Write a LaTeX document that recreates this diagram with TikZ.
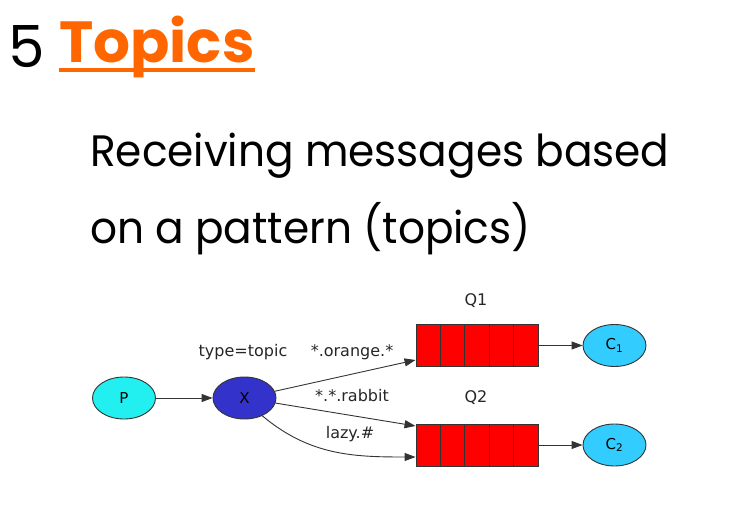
\documentclass[tikz,border=0pt]{standalone}
\usepackage{fontspec}
\setmainfont{Poppins}
\newfontfamily\bodyfont[FakeStretch=0.96]{Poppins}
\newfontfamily\dotfont{DejaVu Sans}
\usepackage{xcolor}
\definecolor{topicorange}{HTML}{FF6600}
\definecolor{prodcyan}{HTML}{22F0F0}
\definecolor{exchblue}{HTML}{3333CC}
\definecolor{consblue}{HTML}{33CCFF}
\definecolor{queuered}{HTML}{FF0000}
\definecolor{edgeink}{HTML}{333333}
\usetikzlibrary{calc,arrows.meta,positioning,shapes.geometric}

\begin{document}
\begin{tikzpicture}[x=1pt, y=-1pt, >={Triangle[length=11pt,width=8pt]},
	blob/.style={ellipse, draw=edgeink, line width=0.9pt, minimum width=63pt, minimum height=42pt, inner sep=0pt, font=\dotfont\fontsize{15}{15}\selectfont},
	queuebox/.style={rectangle, draw=edgeink, fill=queuered, line width=0.9pt, minimum width=122pt, minimum height=42pt, inner sep=0pt},
	link/.style={->, edgeink, line width=0.9pt},
	tag/.style={font=\dotfont\fontsize{16}{16}\selectfont, text=black!85, inner sep=0pt}]

	\useasboundingbox (0,0) rectangle (748,511);

	% ================= Title =================
	\node[anchor=base west, inner sep=0pt, font=\fontsize{58}{58}\selectfont] (num) at (8,68) {5};
	\node[anchor=base west, inner sep=0pt, text=topicorange, font=\bfseries\fontsize{58}{58}\selectfont] (title) at (59,63) {Topics};
	\draw[topicorange, line width=4.5pt] ([yshift=-7pt]title.base west) -- ([yshift=-7pt]title.base east);

	\node[anchor=base west, inner sep=0pt, font=\bodyfont\fontsize{44}{44}\selectfont] (line1) at (90,167) {Receiving messages based};
	\node[anchor=base west, inner sep=0pt, font=\bodyfont\fontsize{44}{44}\selectfont] (line2) at (90,243) {on a pattern (topics)};

	% ================= Diagram =================
	\node[blob, fill=prodcyan] (p) at (124,398) {P};
	\node[blob, fill=exchblue] (x) at (244.5,398) {X};

	\node[queuebox] (q1) at (477,345.5) {};
	\node[queuebox] (q2) at (477,445) {};

	\foreach \q in {q1,q2}{
		\foreach \k in {1,...,4}{
			\draw[edgeink, line width=0.9pt] ($(\q.north west)!\k/5!(\q.north east)$) -- ($(\q.south west)!\k/5!(\q.south east)$);
		}
	}

	\node[blob, fill=consblue] (c1) at (614.5,345.5) {C\textsubscript{1}};
	\node[blob, fill=consblue] (c2) at (614.5,445) {C\textsubscript{2}};

	\node[tag] (q1lbl) at (476,301) {Q1};
	\node[tag] (q2lbl) at (476,398) {Q2};
	\node[tag] (kind) at (243,352) {type=topic};
	\node[tag] (orange) at (352,352) {*.orange.*};
	\node[tag] (rabbit) at (352,396) {*.*.rabbit};
	\node[tag] (lazy) at (350,434) {lazy.\#};

	\draw[link] (p) -- (x);
	\draw[link] (x) -- ([yshift=-14.5pt]q1.west);
	\draw[link] (x) -- ([yshift=19pt]q2.west);
	\draw[link] (x.-45) to[out=-40, in=180] ([yshift=-12pt]q2.west);
	\draw[link] (q1) -- (c1);
	\draw[link] (q2) -- (c2);

\end{tikzpicture}
\end{document}
